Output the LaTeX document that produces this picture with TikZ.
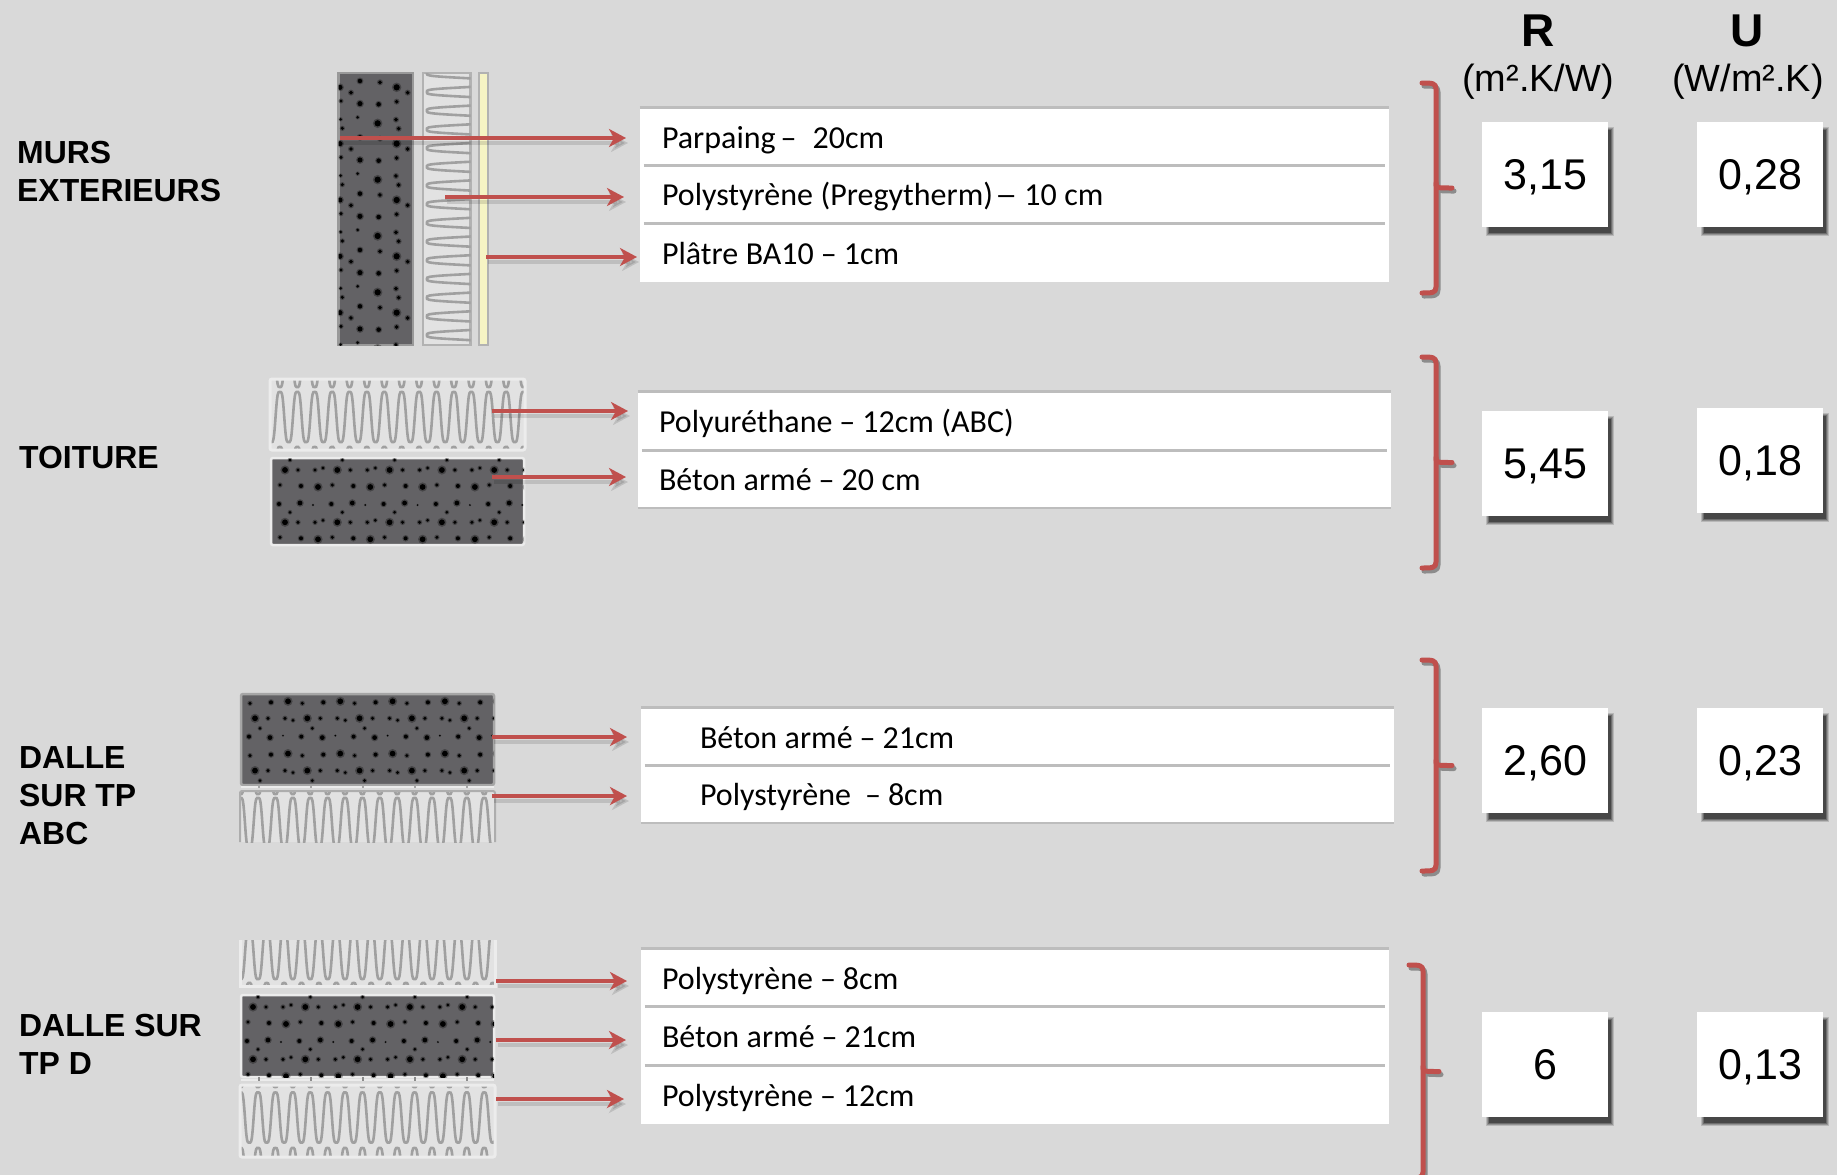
\documentclass[tikz,border=0pt]{standalone}
\usepackage{fontspec}
\usepackage{graphicx}
\setmainfont{Liberation Sans}
\newfontfamily\rowfont{Carlito}
\definecolor{bgc}{HTML}{D9D9D9}
\definecolor{redc}{HTML}{C0504D}
\definecolor{concc}{HTML}{636265}
\definecolor{insc}{HTML}{E2E2E2}
\definecolor{wavec}{HTML}{A0A0A0}
\definecolor{plasterc}{HTML}{F6F4C4}
\definecolor{linec}{HTML}{BDBDBD}
\colorlet{framelight}{white!85!gray}
\colorlet{framedark}{black!35}
\usetikzlibrary{arrows.meta}
\newcommand{\dashgap}{\hspace{7pt}–\hspace{7pt}}
\tikzset{
  declare function={flatc(\c)=(1.36*\c-.48*\c*\c*\c)/.88;},
  rowbox/.style={fill=white,inner sep=0pt,anchor=center,align=left,font=\rowfont\fontsize{32}{36}\selectfont,text height=30pt,text depth=7pt},
  valbox/.style={fill=white,inner sep=0pt,minimum width=126pt,minimum height=105pt,font=\fontsize{43}{48}\selectfont,text height=30pt,text depth=0pt},
  grouplabel/.style={anchor=north west,inner sep=0pt,align=left,font=\bfseries\fontsize{31.9}{38}\selectfont},
  headR/.style={inner sep=0pt,font=\bfseries\fontsize{46}{50}\selectfont},
  headU/.style={inner sep=0pt,font=\fontsize{37.9}{40}\selectfont},
  redarrow/.style={draw=redc,line width=3.4pt,-{Stealth[length=17pt,width=18pt,inset=5pt]}},
  arrowshadow/.style={draw=black,opacity=.12,line width=4pt,-{Stealth[length=17pt,width=18pt,inset=5pt]}},
  wave/.style={draw=wavec,line width=2.6pt,smooth},
  bracketline/.style={draw=redc,line width=5pt,line cap=round,line join=round},
}
\newcommand{\softshadow}[4]{% x0 y0 x1 y1
  \foreach \k/\o in {0/.15,1/.2,2/.25,3/.35}{
    \fill[black,opacity=\o] (#1+\k+4,#2+\k+5) rectangle (#3+6-\k,#4+9-\k);
  }}
\newcommand{\rowbox}[7]{% name x0 y0 x1 y1 indent text
  \node[rowbox,minimum height={(#5-#3)*1pt},text width={(#4-#2)*1pt}] (#1) at ({(#2+#4)/2},{(#3+#5)/2}) {\spaceskip=7.5pt\relax\hspace*{#6pt}#7};}
\newcommand{\rowdiv}[1]{\draw[linec,line width=3pt] ([xshift=4pt]#1.south west) -- ([xshift=-4pt]#1.south east);}
\newcommand{\rowtop}[1]{\draw[linec,line width=3pt] (#1.north west) -- (#1.north east);}
\newcommand{\bracket}[3]{% x y0 y1
  \pgfmathsetmacro{\midy}{(#2+#3)/2}
  \foreach \dx/\dy/\st in {2/3/black!45,0/0/redc}{
  \begin{scope}[shift={(\dx,\dy)}]
  \draw[bracketline,draw=\st] (#1-14,#2) .. controls (#1-4,#2) and (#1,#2) .. (#1,#2+6) -- (#1,#3-6) .. controls (#1,#3) and (#1-4,#3) .. (#1-14,#3);
  \draw[bracketline,draw=\st] (#1,\midy-5) .. controls (#1,\midy) .. (#1+16,\midy);
  \end{scope}}}
\newcommand{\dotcell}{%
  \foreach \dx/\dy/\r in {13/12/3.4,26/12/2,43/12/2,51/10/1.8,8/27/2,29/28/2.4,46/29/3.4,7/46/2.4,28/45/2.8,41/47/1,18/2/1.8}{
    \fill[black,opacity=.3] (\dx,\dy) circle ({\r*1.35});
    \fill[black] (\dx,\dy) circle ({\r*.85});
  }}
\newcommand{\concreteH}[8]{% x0 y0 x1 y1 ox oy framecolour ysign
  \draw[draw=#7,line width=2.5pt,rounded corners=2pt,fill=concc] (#1,#2) rectangle (#3,#4);
  \begin{scope}
  \clip (#1,#2) rectangle (#3,#4);
  \foreach \i in {0,...,4}{\foreach \j in {-1,0,1,2}{
    \begin{scope}[shift={({#5+52.3*\i},{#6+52.3*\j})},yscale=#8]\dotcell\end{scope}
  }}
  \end{scope}}
\newcommand{\insulH}[9]{% x0 y0 x1 y1 phase c amp upper lower
  \fill[insc] (#1,#2) rectangle (#3,#4);
  \begin{scope}
  \clip (#1,#2) rectangle (#3,#4);
  \draw[wave] plot[domain=#1:#3,samples=300] (\x,{#6-#7*flatc(cos((360/17.4)*(\x-#5)))});
  \draw[wave] plot[domain=#1:#3,samples=300] (\x,{#8-#7*flatc(cos((360/17.4)*(\x-#5-8.7)))});
  \draw[wave] plot[domain=#1:#3,samples=300] (\x,{#9-#7*flatc(cos((360/17.4)*(\x-#5)))});
  \end{scope}}
\begin{document}
\begin{tikzpicture}[x=1pt,y=-1pt]
\useasboundingbox (0,0) rectangle (1837,1175);
\fill[bgc] (0,0) rectangle (1837,1175);

% ---------- wall layers
\draw[draw=black!40,line width=2.5pt,fill=concc] (338.5,73) rectangle (413,345);
\begin{scope}
\clip (338.5,73) rectangle (413,345);
\foreach \j in {0,1,2,3,4}{
\begin{scope}[shift={(240,{50+56.33*\j})},x=.3333pt,y=-.3333pt]
\foreach \zx/\zy/\r in {300/112/9,360/93/8,420/97/7,470/112/11,333/128/7,503/128/7,303/153/6,360/161/9,416/163/8,470/155/7,353/202/5,413/220/11,302/208/5,468/209/7,307/235/6,476/236/7}{
  \fill[black,opacity=.3] (\zx,\zy) circle ({\r*1.3});
  \fill[black] (\zx,\zy) circle ({\r*.85});
}
\end{scope}}
\end{scope}
\draw[draw=black!30,line width=2.5pt,fill=insc] (423,73) rectangle (470.5,345);
\begin{scope}
\clip (423,73) rectangle (470.5,345);
\draw[wave] plot[domain=73:345,samples=320] ({463-36*flatc(cos((360/18.7)*(\x-92)))},\x);
\end{scope}
\draw[draw=black!30,line width=2pt,fill=plasterc] (479,73) rectangle (488,345);

% ---------- roof layers
\insulH{270}{379}{525}{450}{262.5}{417}{25}{362}{472}
\draw[framelight,line width=3pt,rounded corners=2pt] (270,379) rectangle (525,450);
\concreteH{271}{458}{524}{545}{272}{458}{framelight}{1}

% ---------- slab ABC layers
\concreteH{241}{694}{494}{785}{242}{678}{framedark}{-1}
\draw[framelight,line width=2pt] (241,787) -- (494,787);
\foreach \tx in {259,311,363,415,467}{\draw[black!35,line width=1.5pt] (\tx,785) -- (\tx,788);}
\insulH{240}{791}{495}{842}{258}{823}{25}{769}{880}
\draw[black!32,line width=2pt,rounded corners=2pt] (240,842) -- (240,791) -- (495,791) -- (495,842);

% ---------- slab D layers
\insulH{240}{940}{495}{986}{249.3}{954}{25}{905}{1008}
\draw[framelight,line width=3pt] (240,940) -- (240,986) -- (495,986) -- (495,940);
\concreteH{241}{995}{494}{1077}{240}{995}{framelight}{1}
\draw[framelight,line width=2pt] (241,1080) -- (494,1080);
\foreach \tx in {259,311,363,415,467}{\draw[black!45,line width=1.8pt] (\tx,1077) -- (\tx,1081);}
\insulH{240}{1085}{495}{1157}{258}{1117.5}{25}{1062}{1173}
\draw[framelight,line width=3pt,rounded corners=2pt] (240,1085) rectangle (495,1157);

% ---------- layer tables
\rowbox{mA}{640}{108}{1389}{165}{22}{Parpaing\hspace{5pt}–\hspace{16pt}20cm}
\rowbox{mB}{640}{165}{1389}{223}{22}{Polystyrène (Pregytherm)\hspace{2pt}\scalebox{1.4}[1]{–}\hspace{7pt}10 cm}
\rowbox{mC}{640}{223}{1389}{282}{22}{Plâtre BA10\dashgap 1cm}
\rowtop{mA}\rowdiv{mA}\rowdiv{mB}

\rowbox{tA}{638}{392}{1391}{450}{21}{Polyuréthane\dashgap 12cm (ABC)}
\rowbox{tB}{638}{450}{1391}{508}{21}{Béton armé\dashgap 20 cm}
\rowtop{tA}\rowdiv{tA}
\draw[linec,line width=2pt] (tB.south west) -- (tB.south east);

\rowbox{aA}{641}{708}{1394}{765}{59}{Béton armé\dashgap 21cm}
\rowbox{aB}{641}{765}{1394}{823}{59}{Polystyrène\hspace{14pt}–\hspace{7pt}8cm}
\rowtop{aA}\rowdiv{aA}
\draw[linec,line width=2pt] (aB.south west) -- (aB.south east);

\rowbox{dA}{641}{949}{1389}{1006}{21}{Polystyrène\dashgap 8cm}
\rowbox{dB}{641}{1006}{1389}{1065}{21}{Béton armé\dashgap 21cm}
\rowbox{dC}{641}{1065}{1389}{1124}{21}{Polystyrène\dashgap 12cm}
\rowtop{dA}\rowdiv{dA}\rowdiv{dB}

% ---------- arrows
\foreach \nm/\xs/\xe/\yy in {a1/340/626/138,a2/445/624/197,a3/486/637/257,a4/492/628/411,a5/492/626/477,a6/492/627/737,a7/492/627/796,a8/496/627/981,a9/496/626/1040,a10/496/624/1099}{
  \coordinate (\nm s) at (\xs,\yy);
  \coordinate (\nm e) at (\xe,\yy);
  \draw[arrowshadow] ([shift={(2,5)}]\nm s) -- ([shift={(2,5)}]\nm e);
  \draw[redarrow] (\nm s) -- (\nm e);
}

% ---------- brackets
\bracket{1436}{83}{293}
\bracket{1436}{357}{568}
\bracket{1436}{660}{871}
\bracket{1423}{965}{1178}

% ---------- headings
\node[headR] (hR) at (1538,31) {R};
\node[headR] (hU) at (1747,31) {U};
\node[headU] (uR) at (1538,82) {(m².K/W)};
\node[headU] (uU) at (1748,82) {(W/m².K)};

% ---------- values
\foreach \nm/\xa/\ya/\v in {v1/1482/122/{3,15},v2/1697/122/{0,28},v3/1482/411/{5,45},v4/1697/408/{0,18},v5/1482/708/{2,60},v6/1697/708/{0,23},v7/1482/1012/{6},v8/1697/1012/{0,13}}{
  \softshadow{\xa}{\ya}{\xa+126}{\ya+105}
  \node[valbox,anchor=north west] (\nm) at (\xa,\ya) {\v};
}

% ---------- group labels
\node[grouplabel] (gM) at (17,141) {MURS\\EXTERIEURS};
\node[grouplabel] (gT) at (19,446) {TOITURE};
\node[grouplabel] (gA) at (19,746) {DALLE\\SUR TP\\ABC};
\node[grouplabel] (gD) at (19,1014) {DALLE SUR\\TP D};
\end{tikzpicture}
\end{document}
